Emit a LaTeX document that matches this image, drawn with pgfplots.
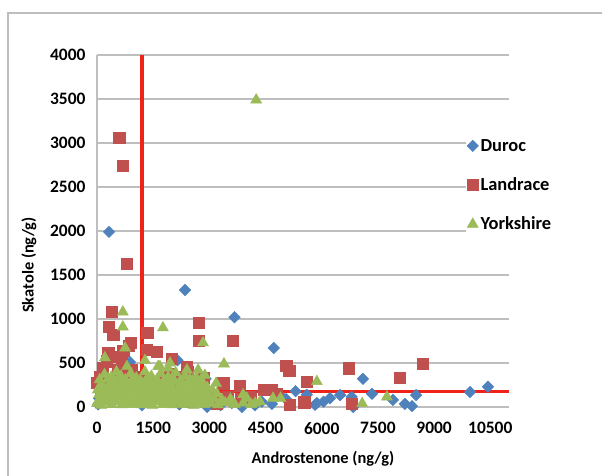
\documentclass[border=0pt]{standalone}
\usepackage{pgfplots}
\pgfplotsset{compat=1.18}
\usepackage{fontspec}
\setmainfont{Carlito}
\definecolor{duroc}{HTML}{4F81BD}
\definecolor{landrace}{HTML}{C0504D}
\definecolor{york}{HTML}{9BBB59}
\definecolor{gridg}{HTML}{BEBEBE}
\definecolor{thr}{HTML}{F0231A}

\pgfplotstableread{
x y
320 1990
2350 1330
3670 1020
4720 670
880 510
2150 530
7100 320
5870 45
6220 100
6490 135
6800 115
6840 0
7340 150
7900 80
8220 35
8410 10
8520 135
9960 170
10440 230
2960 55
3600 45
4670 35
4890 135
5820 25
2940 0
3870 0
4220 20
50 100
30 30
400 60
1200 20
1500 80
2000 120
2200 30
2700 90
3300 20
2900 320
5300 180
5600 140
4400 60
5050 90
6050 60
}\duroc

\pgfplotstableread{
x y
590 3060
690 2740
800 1630
400 1080
320 910
430 820
850 700
900 730
1340 840
1330 650
1600 625
2720 960
2720 750
3630 750
2000 550
2400 460
2430 400
3370 270
3820 240
5050 470
5130 410
5600 290
4440 200
4670 200
5150 25
3020 90
6730 440
8090 330
8700 490
6810 35
5530 55
160 450
0 280
480 570
610 570
670 500
560 420
80 340
930 420
1150 340
1600 270
300 620
250 520
700 640
100 180
300 250
500 300
620 380
900 300
1050 250
1300 180
1500 220
1800 200
2100 260
2300 180
2600 120
2800 200
3100 140
2500 60
3200 40
3500 120
4100 120
4800 150
2850 330
3850 90
1950 380
2200 340
}\landrace

\pgfplotstableread{
x y
4250 3490
690 1080
690 910
1760 900
750 670
2830 730
3390 490
210 560
5870 290
7080 40
7740 115
800 460
1280 530
1630 460
1900 440
2400 420
2700 420
2880 360
3180 270
1950 500
1680 460
4900 100
4350 60
3900 140
3600 60
4000 100
4700 100
4220 45
0 40
110 20
240 55
390 30
520 60
660 25
800 50
940 30
1080 55
1210 25
1350 45
1480 20
1610 60
1750 30
1880 50
2010 25
2150 55
2290 30
2430 40
2580 20
2720 50
2870 30
3040 40
3230 25
3420 50
3680 30
3900 45
4120 30
60 85
190 95
320 80
450 100
590 85
720 95
860 80
1000 100
1140 90
1280 80
1410 100
1540 85
1680 95
1810 80
1950 100
2080 85
2220 95
2360 80
2500 100
2640 85
2790 90
2940 80
3120 95
3330 85
3560 90
50 140
180 120
330 160
470 130
610 150
740 120
880 165
1020 135
1150 150
1300 120
1420 160
1560 130
1700 150
1830 125
1980 160
2110 130
2250 145
2400 120
2550 150
2700 130
2850 140
3000 120
3200 150
20 195
160 205
300 190
440 210
580 195
720 205
830 190
960 210
1090 195
1220 205
1360 190
1490 210
1620 195
1760 205
1890 190
2030 210
2160 195
2310 205
2460 190
2600 210
2740 195
2900 200
3080 190
120 260
280 230
420 280
560 240
700 270
860 230
990 290
1130 250
1270 280
1400 240
1550 275
1680 230
1820 270
1960 240
2080 285
2230 250
2380 230
2520 270
2660 240
2800 250
2950 220
70 310
300 320
460 300
580 330
760 310
960 320
1160 300
1350 325
1600 310
1790 300
2000 320
2230 305
2480 315
2560 300
2780 310
200 370
380 340
520 400
640 350
900 380
1050 330
1280 400
1450 350
1700 380
1900 340
2100 390
2350 350
2650 330
}\york

\begin{document}
\begin{tikzpicture}[x=1bp,y=1bp]
\path[use as bounding box] (0,0) rectangle (602,476);
\draw[gridg, line width=1.2bp] (8,0) -- (8,463) -- (602,463);
\begin{axis}[
  at={(97bp,69bp)}, anchor=south west,
  scale only axis, width=412bp, height=352bp,
  xmin=0, xmax=11000, ymin=0, ymax=4000,
  xtick={0,1500,3000,4500,6000,7500,9000,10500},
  ytick={0,500,1000,1500,2000,2500,3000,3500,4000},
  scaled x ticks=false, scaled y ticks=false,
  ymajorgrids, major grid style={gridg, line width=1.2bp},
  axis lines=left, axis line style={-},
  x axis line style={draw=none},
  y axis line style={gridg, line width=1.2bp},
  major tick length=0pt,
  /pgf/number format/.cd, 1000 sep={}, assume math mode=true, /pgfplots/.cd,
  xticklabel style={font=\bfseries\fontsize{17.5}{17.5}\selectfont, yshift=-12bp},
  yticklabel style={font=\bfseries\fontsize{17.5}{17.5}\selectfont, xshift=-8bp},
  clip=false,
  legend style={at={(rel axis cs:0.895,0.77)}, anchor=north west, draw=none, fill=white,
    inner sep=1bp, row sep=21bp, font=\bfseries\fontsize{18.5}{19}\selectfont},
  legend cell align=left,
  legend image code/.code={\draw[mark repeat=2,mark phase=2,#1] plot coordinates {(0bp,0bp)(6bp,0bp)(15bp,0bp)};},
]
\addplot[only marks, mark=square*, mark size=4.1bp, mark options={rotate=45, fill=duroc, draw=duroc}] table[x=x,y=y] {\duroc};
\addlegendentry{Duroc}
\addplot[only marks, mark=square*, mark size=5.6bp, mark options={fill=landrace, draw=landrace}] table[x=x,y=y] {\landrace};
\addlegendentry{Landrace}
\addplot[only marks, mark=triangle*, mark size=6.4bp, mark options={fill=york, draw=york}] table[x=x,y=y] {\york};
\addlegendentry{Yorkshire}
\addplot[forget plot, thr, line width=3.6bp] coordinates {(1200,0) (1200,4000)};
\addplot[forget plot, thr, line width=3.6bp] coordinates {(0,175) (11000,175)};
\end{axis}
\node[rotate=90, font=\bfseries\fontsize{16.5}{18}\selectfont] at (29,211) {Skatole (ng/g)};
\node[font=\bfseries\fontsize{16.5}{18}\selectfont] at (323,17) {Androstenone (ng/g)};
\end{tikzpicture}
\end{document}
